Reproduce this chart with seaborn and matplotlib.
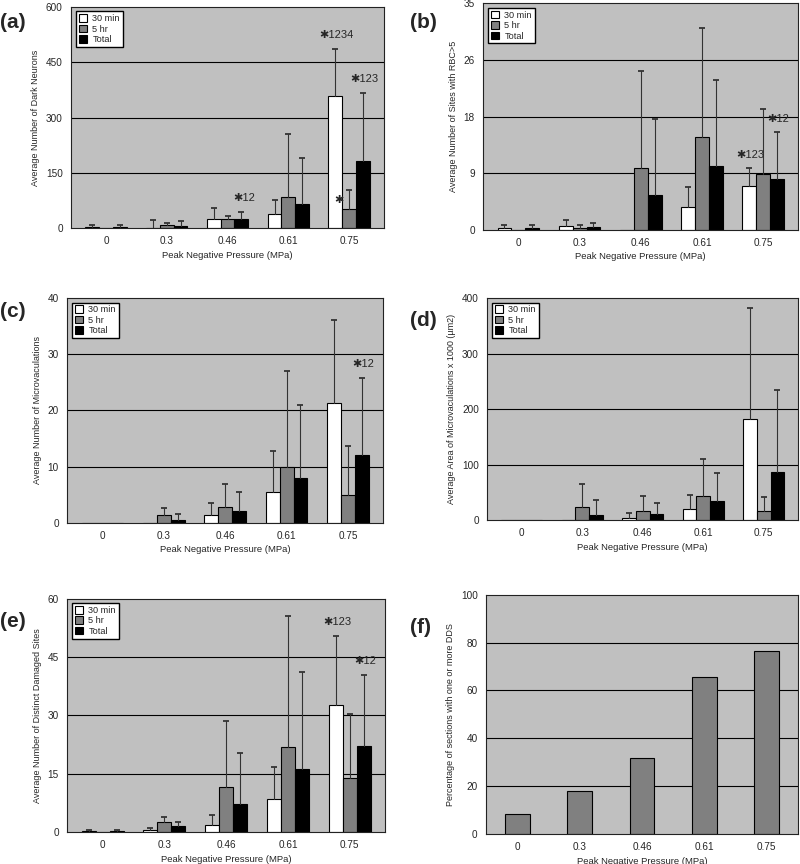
import matplotlib
matplotlib.use("Agg")
import matplotlib.pyplot as plt
import pandas as pd
import seaborn as sns

# =========================================
# DATA
# =========================================

pressures = ["0", "0.3", "0.46", "0.61", "0.75"]
series_names = ["30 min", "5 hr", "Total"]

# (a) dark neurons
dark_30 = [3, 0, 25, 39, 359]
dark_5 = [0, 8, 25, 85, 51]
dark_tot = [3, 5, 25, 65, 183]
dark_err_30 = [6, 21, 29, 38, 127]
dark_err_5 = [0, 7, 9, 169, 53]
dark_err_tot = [6, 13, 18, 125, 183]

# (b) sites with RBC>5
rbc_30 = [0.3, 0.6, 0, 3.5, 6.8]
rbc_5 = [0, 0.3, 9.6, 14.4, 8.7]
rbc_tot = [0.3, 0.5, 5.4, 9.8, 7.8]
rbc_err_30 = [0.4, 0.9, 0, 3.1, 2.7]
rbc_err_5 = [0, 0.4, 14.9, 16.8, 10.0]
rbc_err_tot = [0.4, 0.6, 11.8, 13.3, 7.3]

# (c) number of microvacuolations
mv_30 = [0, 0, 1.3, 5.4, 21.4]
mv_5 = [0, 1.3, 2.8, 10, 5]
mv_tot = [0, 0.5, 2.1, 8, 12.1]
mv_err_30 = [0, 0, 2.2, 7.4, 14.7]
mv_err_5 = [0, 1.4, 4.1, 17, 8.7]
mv_err_tot = [0, 1.0, 3.3, 12.9, 13.6]

# (d) area of microvacuolations x 1000
area_30 = [0, 0, 4, 20, 182.5]
area_5 = [0, 23.5, 16, 43, 16]
area_tot = [0, 10, 11.5, 34, 87]
area_err_30 = [0, 0, 9, 26, 200]
area_err_5 = [0, 41.5, 28, 68, 26]
area_err_tot = [0, 26, 19.5, 50, 147]

# (e) distinct damaged sites
dds_30 = [0.3, 0.4, 1.7, 8.6, 32.6]
dds_5 = [0, 2.6, 11.6, 21.9, 13.8]
dds_tot = [0.3, 1.5, 7.3, 16.3, 22]
dds_err_30 = [0.3, 0.7, 2.6, 8.2, 17.9]
dds_err_5 = [0, 1.3, 16.9, 33.6, 16.5]
dds_err_tot = [0.3, 1.2, 13.1, 24.9, 18.5]

# (f) percentage of sections with one or more DDS
pct_dds = [8.3, 17.8, 31.8, 65.8, 76.5]

# annotations: (series index, pressure index, y, text, x shift in bar widths)
notes_a = [(2, 2, 68, "✱12", 0.2), (0, 4, 509, "✱1234", 0.1),
           (1, 4, 62, "✱", -0.7), (2, 4, 391, "✱123", 0.1)]
notes_b = [(0, 4, 10.8, "✱123", 0.1), (2, 4, 16.4, "✱12", 0.1)]
notes_c = [(2, 4, 27.3, "✱12", 0.1)]
notes_e = [(0, 4, 52.8, "✱123", 0.1), (2, 4, 42.7, "✱12", 0.1)]

BG = "#c0c0c0"
GREY = "#808080"
palette = {"30 min": "white", "5 hr": GREY, "Total": "black"}

sns.set_style("white")
plt.rcParams["font.family"] = ["Liberation Sans", "DejaVu Sans"]

fig = plt.figure(figsize=(8, 8.64), dpi=100)


def style_axes(ax, ymax, ticks, ticklabels, ylabel):
    ax.set_facecolor(BG)
    ax.set_ylim(0, ymax)
    ax.set_yticks(ticks)
    ax.set_yticklabels(ticklabels)
    for t in ticks[1:-1]:
        ax.axhline(t, color="black", linewidth=0.8, zorder=0.5)
    ax.tick_params(axis="both", length=0, labelsize=7.2, pad=6)
    ax.set_xlabel("Peak Negative Pressure (MPa)", fontsize=6.8, labelpad=3)
    ax.set_ylabel(ylabel, fontsize=6.5, labelpad=4)
    for sp in ax.spines.values():
        sp.set_color("#222222")
        sp.set_linewidth(0.8)


def grouped_panel(rect, vals, errs, ymax, ticks, ticklabels, ylabel, notes):
    ax = fig.add_axes(rect)
    df = pd.DataFrame({
        "pressure": pressures * 3,
        "series": [s for s in series_names for _ in pressures],
        "value": vals[0] + vals[1] + vals[2],
    })
    sns.barplot(data=df, x="pressure", y="value", hue="series",
                order=pressures, hue_order=series_names, palette=palette,
                edgecolor="black", linewidth=0.8, errorbar=None,
                width=0.68, ax=ax, zorder=2)

    # upper-only error bars
    for i, cont in enumerate(ax.containers):
        for j, patch in enumerate(cont.patches):
            e = errs[i][j]
            if e <= 0:
                continue
            x = patch.get_x() + patch.get_width() / 2
            y = vals[i][j]
            ax.plot([x, x], [y, y + e], color="#333333", linewidth=0.8, zorder=3)
            ax.plot(x, y + e, marker="_", markersize=4, mew=1.3,
                    color="#333333", zorder=3)

    for si, pi, y, text, dx in notes:
        patch = ax.containers[si].patches[pi]
        x = patch.get_x() + patch.get_width() / 2 + dx * patch.get_width()
        ax.text(x, y, text, fontsize=8, ha="center", va="bottom", zorder=4)

    style_axes(ax, ymax, ticks, ticklabels, ylabel)
    ax.legend(loc="upper left", fontsize=6.6, frameon=True, fancybox=False,
              edgecolor="black", framealpha=1, handlelength=0.9,
              handleheight=0.9, handletextpad=0.6, borderpad=0.3,
              labelspacing=0.15, borderaxespad=0.5)
    return ax


ax_a = grouped_panel([0.089, 0.736, 0.391, 0.256],
                     [dark_30, dark_5, dark_tot],
                     [dark_err_30, dark_err_5, dark_err_tot],
                     600, [0, 150, 300, 450, 600],
                     ["0", "150", "300", "450", "600"],
                     "Average Number of Dark Neurons", notes_a)

ax_b = grouped_panel([0.604, 0.734, 0.394, 0.262],
                     [rbc_30, rbc_5, rbc_tot],
                     [rbc_err_30, rbc_err_5, rbc_err_tot],
                     35, [0, 8.75, 17.5, 26.25, 35],
                     ["0", "9", "18", "26", "35"],
                     "Average Number of Sites with RBC>5", notes_b)

ax_c = grouped_panel([0.084, 0.395, 0.395, 0.260],
                     [mv_30, mv_5, mv_tot],
                     [mv_err_30, mv_err_5, mv_err_tot],
                     40, [0, 10, 20, 30, 40],
                     ["0", "10", "20", "30", "40"],
                     "Average Number of Microvaculations", notes_c)

ax_d = grouped_panel([0.609, 0.398, 0.389, 0.257],
                     [area_30, area_5, area_tot],
                     [area_err_30, area_err_5, area_err_tot],
                     400, [0, 100, 200, 300, 400],
                     ["0", "100", "200", "300", "400"],
                     "Average Area of Microvaculations x 1000 (µm2)", [])

ax_e = grouped_panel([0.084, 0.037, 0.3975, 0.270],
                     [dds_30, dds_5, dds_tot],
                     [dds_err_30, dds_err_5, dds_err_tot],
                     60, [0, 15, 30, 45, 60],
                     ["0", "15", "30", "45", "60"],
                     "Average Number of Distinct Damaged Sites", notes_e)

# =========================================
# (f) single series
# =========================================

ax_f = fig.add_axes([0.6075, 0.0347, 0.39, 0.277])
df_f = pd.DataFrame({"pressure": pressures, "value": pct_dds})
sns.barplot(data=df_f, x="pressure", y="value", order=pressures,
            color=GREY, saturation=1, edgecolor="black", linewidth=0.8,
            errorbar=None, width=0.4, ax=ax_f, zorder=2)
style_axes(ax_f, 100, [0, 20, 40, 60, 80, 100],
           ["0", "20", "40", "60", "80", "100"],
           "Percentage of sections with one or more DDS")

# panel letters
for label, x, y in [("(a)", 0.0, 0.985), ("(b)", 0.512, 0.985),
                    ("(c)", 0.0, 0.65), ("(d)", 0.512, 0.64),
                    ("(e)", 0.0, 0.292), ("(f)", 0.512, 0.285)]:
    fig.text(x, y, label, fontsize=15, fontweight="bold", ha="left", va="top")

fig.savefig("out.png", dpi=100)
